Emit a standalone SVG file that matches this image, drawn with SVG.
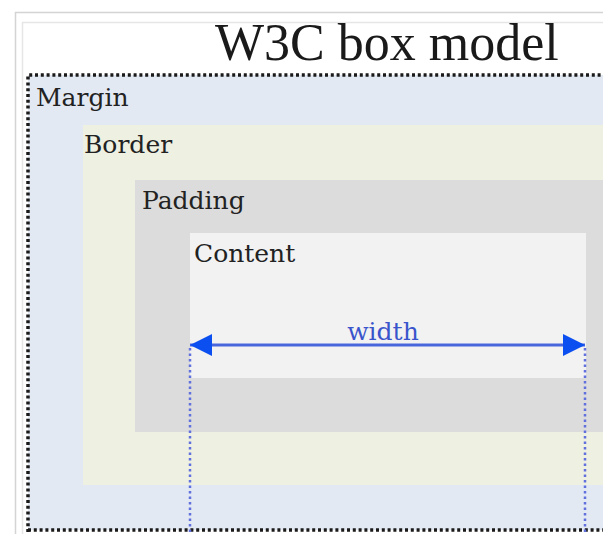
<svg xmlns="http://www.w3.org/2000/svg" width="603" height="534" viewBox="0 0 603 534">
<style>
.lbl{font-family:"DejaVu Serif",serif;font-size:25px;fill:#222}
.title{font-family:"Liberation Serif","Times New Roman",serif;font-size:52px;fill:#1a1a1a}
.guide{fill:none;stroke:#6070dd;stroke-width:2.5;stroke-dasharray:2.5 3}
</style>
<defs>
<marker id="ah" viewBox="0 0 22 22" refX="22" refY="11" markerWidth="22" markerHeight="22" markerUnits="userSpaceOnUse" orient="auto-start-reverse">
<path d="M0,0 L22,11 L0,22 Z" fill="#0b4ff0"/>
</marker>
</defs>
<rect width="603" height="534" fill="#ffffff"/>
<g id="frame">
<rect x="15.5" y="12.5" width="600" height="540" fill="none" stroke="#d4d4d4" stroke-width="1.5"/>
<rect x="22.5" y="22.5" width="600" height="540" fill="none" stroke="#e6e6e6" stroke-width="1.5"/>
</g>
<text id="title" class="title" x="215" y="60">W3C box model</text>
<g id="margin">
<rect x="28" y="75" width="600" height="455" fill="#e3e9f3"/>
<path d="M28,532 L28,75 L610,75 M28,530 L610,530" fill="none" stroke="#1a1a1a" stroke-width="3.5" stroke-dasharray="3 2.8"/>
<text class="lbl" x="36" y="106">Margin</text>
</g>
<g id="border">
<rect x="83" y="125" width="540" height="360" fill="#eef0e2"/>
<text class="lbl" x="84" y="153">Border</text>
</g>
<g id="padding">
<rect x="135" y="180" width="480" height="252" fill="#dcdcdc"/>
<text class="lbl" x="142" y="209">Padding</text>
</g>
<g id="content">
<rect x="190" y="233" width="396" height="145" fill="#f2f2f2"/>
<text class="lbl" x="194" y="262">Content</text>
</g>
<g id="connectors">
<line x1="190" y1="345" x2="585" y2="345" stroke="#4a66dd" stroke-width="3" marker-start="url(#ah)" marker-end="url(#ah)"/>
<line class="guide" x1="190" y1="348" x2="190" y2="532"/>
<line class="guide" x1="585" y1="348" x2="585" y2="532"/>
</g>
<text id="width" class="lbl" x="383" y="340" text-anchor="middle" style="fill:#3a55cc">width</text>
</svg>
